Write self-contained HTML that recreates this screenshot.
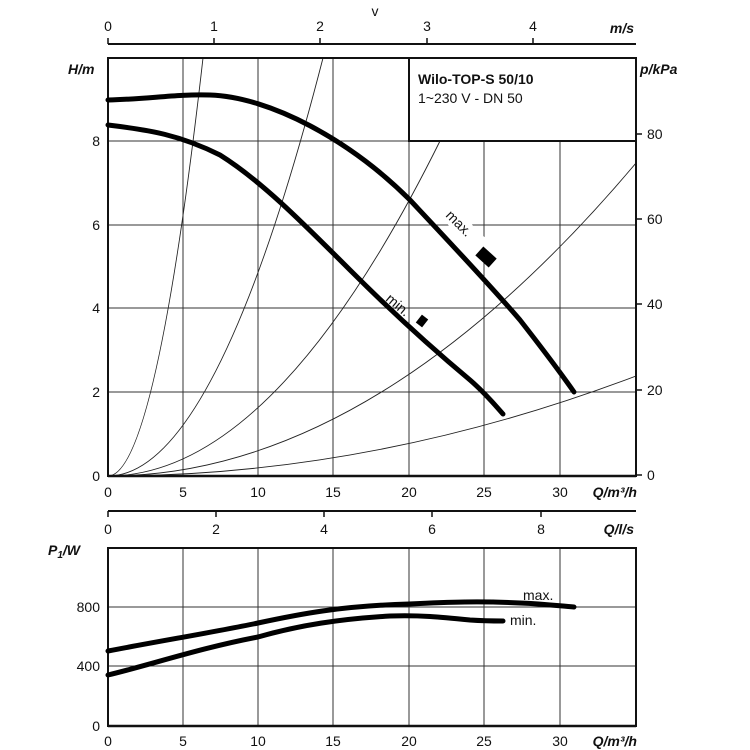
<!DOCTYPE html>
<html><head><meta charset="utf-8"><style>
html,body{margin:0;padding:0;background:#fff}
svg{display:block}
text{font-family:"Liberation Sans",sans-serif;font-size:14px;fill:#111}
</style></head><body>
<svg width="750" height="750" viewBox="0 0 750 750" xmlns="http://www.w3.org/2000/svg">
<line x1="108" y1="44" x2="636" y2="44" stroke="#111" stroke-width="2"/>
<g stroke="#111" stroke-width="1.5">
<line x1="108" y1="38" x2="108" y2="44"/><line x1="214" y1="38" x2="214" y2="44"/><line x1="320" y1="38" x2="320" y2="44"/><line x1="427" y1="38" x2="427" y2="44"/><line x1="533" y1="38" x2="533" y2="44"/>
</g>
<text x="375" y="16" text-anchor="middle">v</text>
<g text-anchor="middle" font-size="15"><text x="108" y="31">0</text><text x="214" y="31">1</text><text x="320" y="31">2</text><text x="427" y="31">3</text><text x="533" y="31">4</text></g>
<text x="634" y="33" text-anchor="end" font-style="italic" font-weight="bold">m/s</text>

<g stroke="#333" stroke-width="1">
<line x1="183" y1="58" x2="183" y2="476"/><line x1="258" y1="58" x2="258" y2="476"/><line x1="333" y1="58" x2="333" y2="476"/>
<line x1="409" y1="141" x2="409" y2="476"/><line x1="484" y1="141" x2="484" y2="476"/><line x1="560" y1="141" x2="560" y2="476"/>
<line x1="108" y1="392" x2="636" y2="392"/><line x1="108" y1="308" x2="636" y2="308"/><line x1="108" y1="225" x2="636" y2="225"/><line x1="108" y1="141" x2="636" y2="141"/>
</g>
<g fill="none" stroke="#222" stroke-width="0.9">
<path d="M108,476 Q155.5,476 203,58"/>
<path d="M108,476 Q215.5,476 323,58"/>
<path d="M108,476 Q274,476 440,141"/>
<path d="M108,476 Q372,476 636,163"/>
<path d="M108,476 Q372,476 636,376"/>
</g>
<rect x="409" y="58" width="227" height="83" fill="#fff" stroke="#111" stroke-width="2"/>
<text x="418" y="84" font-weight="bold" font-size="17">Wilo-TOP-S 50/10</text>
<text x="418" y="103" font-size="14">1~230 V - DN 50</text>
<rect x="108" y="58" width="528" height="418" fill="none" stroke="#111" stroke-width="2"/>
<line x1="108" y1="476" x2="636" y2="476" stroke="#111" stroke-width="2.5"/>
<g transform="translate(445,216) rotate(45)"><rect x="-3" y="-13" width="62" height="17" fill="#fff"/><text x="0" y="0">max.</text></g>
<g fill="none" stroke="#000" stroke-width="5" stroke-linecap="round">
<path d="M108,100 C150,99 175,94 210,95 C270,97 350,140 410,200 C440,232 490,285 520,320 C545,352 560,372 574,392"/>
<path d="M108,125 C150,130 180,135 220,155 C260,180 300,220 350,270 C400,320 440,355 470,380 C485,393 495,405 503,414"/>
</g>
<rect x="-9" y="-6" width="18" height="12" fill="#000" transform="translate(486,257) rotate(42)"/>
<g transform="translate(390,294) rotate(40)"><text x="0" y="8">min.</text></g>
<rect x="-4" y="-5" width="8" height="10" fill="#000" transform="translate(422,321) rotate(38)"/>

<text x="68" y="74" font-style="italic" font-weight="bold">H/m</text>
<g text-anchor="end" font-size="15"><text x="100" y="146">8</text><text x="100" y="230">6</text><text x="100" y="313">4</text><text x="100" y="397">2</text><text x="100" y="481">0</text></g>
<text x="640" y="74" font-style="italic" font-weight="bold">p/kPa</text>
<g stroke="#111" stroke-width="1.5"><line x1="636" y1="134" x2="642" y2="134"/><line x1="636" y1="219" x2="642" y2="219"/><line x1="636" y1="304" x2="642" y2="304"/><line x1="636" y1="390" x2="642" y2="390"/><line x1="636" y1="475" x2="642" y2="475"/></g>
<g font-size="15"><text x="647" y="139">80</text><text x="647" y="224">60</text><text x="647" y="309">40</text><text x="647" y="395">20</text><text x="647" y="480">0</text></g>
<g text-anchor="middle" font-size="15"><text x="108" y="497">0</text><text x="183" y="497">5</text><text x="258" y="497">10</text><text x="333" y="497">15</text><text x="409" y="497">20</text><text x="484" y="497">25</text><text x="560" y="497">30</text></g>
<text x="637" y="497" text-anchor="end" font-style="italic" font-weight="bold">Q/m³/h</text>

<line x1="108" y1="511" x2="636" y2="511" stroke="#111" stroke-width="2"/>
<g stroke="#111" stroke-width="1.5"><line x1="108" y1="511" x2="108" y2="517"/><line x1="216" y1="511" x2="216" y2="517"/><line x1="324" y1="511" x2="324" y2="517"/><line x1="432" y1="511" x2="432" y2="517"/><line x1="541" y1="511" x2="541" y2="517"/></g>
<g text-anchor="middle" font-size="15"><text x="108" y="534">0</text><text x="216" y="534">2</text><text x="324" y="534">4</text><text x="432" y="534">6</text><text x="541" y="534">8</text></g>
<text x="634" y="534" text-anchor="end" font-style="italic" font-weight="bold">Q/l/s</text>

<g stroke="#333" stroke-width="1">
<line x1="183" y1="548" x2="183" y2="726"/><line x1="258" y1="548" x2="258" y2="726"/><line x1="333" y1="548" x2="333" y2="726"/><line x1="409" y1="548" x2="409" y2="726"/><line x1="484" y1="548" x2="484" y2="726"/><line x1="560" y1="548" x2="560" y2="726"/>
<line x1="108" y1="607" x2="636" y2="607"/><line x1="108" y1="666" x2="636" y2="666"/>
</g>
<rect x="108" y="548" width="528" height="178" fill="none" stroke="#111" stroke-width="2"/>
<line x1="108" y1="726" x2="636" y2="726" stroke="#111" stroke-width="2.5"/>
<g fill="none" stroke="#000" stroke-width="5" stroke-linecap="round">
<path d="M108,651 C160,641 220,631 258,623 C300,614 340,606 409,604 C450,602 480,601 520,603 C545,604 560,606 574,607"/>
<path d="M108,675 C150,665 200,648 258,637 C300,625 340,619 390,616 C420,615 440,617 470,620 C485,621 495,621 503,621"/>
</g>
<text x="523" y="600">max.</text>
<text x="510" y="625">min.</text>
<text x="48" y="555" font-style="italic" font-weight="bold">P<tspan font-size="10" dy="3">1</tspan><tspan dy="-3">/W</tspan></text>
<g text-anchor="end" font-size="15"><text x="100" y="612">800</text><text x="100" y="671">400</text><text x="100" y="731">0</text></g>
<g text-anchor="middle" font-size="15"><text x="108" y="746">0</text><text x="183" y="746">5</text><text x="258" y="746">10</text><text x="333" y="746">15</text><text x="409" y="746">20</text><text x="484" y="746">25</text><text x="560" y="746">30</text></g>
<text x="637" y="746" text-anchor="end" font-style="italic" font-weight="bold">Q/m³/h</text>
</svg>
</body></html>
